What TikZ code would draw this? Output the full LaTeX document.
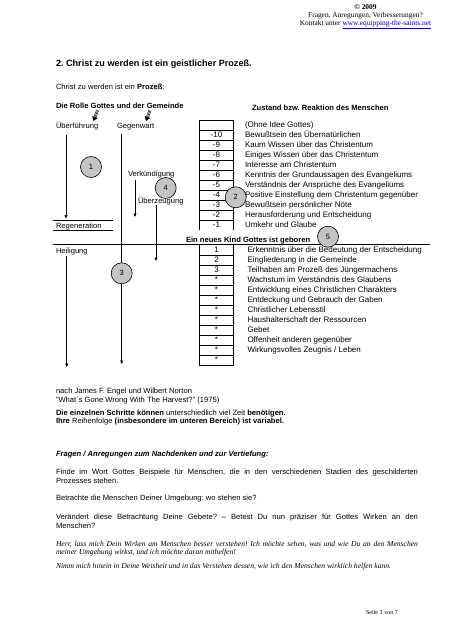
\documentclass[tikz,border=0pt]{standalone}
\usepackage{fontspec}
\setmainfont{Liberation Sans}
\newfontfamily\serifface{Liberation Serif}
\usetikzlibrary{arrows.meta}
\definecolor{circgray}{RGB}{196,196,196}
\definecolor{linkblue}{RGB}{0,0,200}
\newcommand\fBody{\fontsize{7.6}{8.75}\selectfont}
\newcommand\fTab{\fontsize{8}{9}\selectfont}
\newcommand\fTitle{\fontsize{9.1}{11}\selectfont\bfseries}
\newcommand\fHead{\fontsize{7.4}{8.5}\selectfont\serifface}
\newcommand\fFoot{\fontsize{6.1}{7.5}\selectfont\serifface}
\frenchspacing
\begin{document}
\frenchspacing
\begin{tikzpicture}[x=1pt,y=-1pt,
  every node/.style={inner sep=0pt,outer sep=0pt},
  txt/.style={anchor=base west,font=\fBody},
  ttxt/.style={anchor=base west,font=\fTab},
  num/.style={anchor=base,font=\fTab},
  circ/.style={circle,draw,line width=0.6pt,fill=circgray,minimum size=21pt,font=\fBody},
  rule/.style={line width=0.6pt},
  arr/.style={line width=0.6pt,-{Triangle[length=3.5pt,width=3pt]}},
  hatcharrow/.pic={
    \fill (0,0) -- (4.3,-2.95) -- (-1.3,-5.05) -- cycle;
    \foreach \o in {-1.1,0,1.1}{
      \draw[line width=0.45pt] ({1.5+0.94*\o},{-4+0.35*\o}) -- ++(2.6,-6.8);
    }
  }]
\useasboundingbox (0,0) rectangle (453,640);
\fill[white] (0,0) rectangle (453,640);

% header
\node[anchor=base,font=\fHead] (h1) at (365.5,9) {\bfseries\textcopyright\ 2009};
\node[anchor=base,font=\fHead] (h2) at (365.5,17) {Fragen, Anregungen, Verbesserungen?};
\node[anchor=base,font=\fHead] (h3) at (365.5,25) {Kontakt unter \textcolor{linkblue}{\underline{www.equipping-the-saints.net}}};

% title
\node[anchor=base west,font=\fTitle] (title) at (56,66.5) {2. Christ zu werden ist ein geistlicher Prozeß.};
\node[txt] (intro) at (56,89) {Christ zu werden ist ein \textbf{Prozeß}:};
\node[txt] (rolle) at (56,108) {\textbf{Die Rolle Gottes und der Gemeinde}};
\node[txt] (zust) at (252,110) {\textbf{Zustand bzw. Reaktion des Menschen}};

% hatched arrows
\pic at (93.5,121) {hatcharrow};
\pic at (146,121) {hatcharrow};

% coordinates for connectors
\coordinate (a1s) at (66,135);   \coordinate (a1e) at (66,218.5);
\coordinate (a2s) at (121.7,134); \coordinate (a2e) at (121.7,364);
\coordinate (a3s) at (135,180);  \coordinate (a3e) at (135,217);
\coordinate (a4s) at (156,205);  \coordinate (a4e) at (156,261);
\coordinate (a5s) at (66.7,256); \coordinate (a5e) at (66.7,367);
\draw[arr] (a1s) -- (a1e);
\draw[arr] (a2s) -- (a2e);
\draw[arr] (a3s) -- (a3e);
\draw[arr] (a4s) -- (a4e);
\draw[arr] (a5s) -- (a5e);

% regeneration rules
\draw[rule] (53,220.5) -- (113,220.5);
\draw[rule] (53,230.5) -- (113,230.5);
% long rule
\draw[rule] (53,244) -- (430,244);
\node[anchor=base west,font=\fBody\bfseries] (kind) at (186,242) {Ein neues Kind Gottes ist geboren};

% upper table
\foreach \i in {0,...,10} { \draw[rule] (199,{120+10*\i}) -- (233.5,{120+10*\i}); }
\draw[rule] (199,120) -- (199,230);
\draw[rule] (233.5,120) -- (233.5,230);
\foreach \n [count=\k] in {-10,-9,-8,-7,-6,-5,-4,-3,-2,-1} {
  \node[num] at (216.5,{127.8+10*\k}) {\n};
}
\foreach \t [count=\k from 0] in {(Ohne Idee Gottes),Bewußtsein des Übernatürlichen,Kaum Wissen über das Christentum,Einiges Wissen über das Christentum,Interesse am Christentum,Kenntnis der Grundaussagen des Evangeliums,Verständnis der Ansprüche des Evangeliums,Positive Einstellung dem Christentum gegenüber,Bewußtsein persönlicher Nöte,Herausforderung und Entscheidung,Umkehr und Glaube} {
  \node[ttxt] at (245,{127.8+10*\k}) {\t};
}

% lower table
\foreach \j in {1,...,12} { \draw[rule] (199,{245+10*\j}) -- (233.5,{245+10*\j}); }
\draw[rule] (199,244) -- (199,365);
\draw[rule] (233.5,244) -- (233.5,365);
\foreach \n [count=\k from 0] in {1,2,3,*,*,*,*,*,*,*,*,*} {
  \node[num] at (216.5,{252.8+10*\k}) {\n};
}
\foreach \t [count=\k from 0] in {Erkenntnis über die Bedeutung der Entscheidung,Eingliederung in die Gemeinde,Teilhaben am Prozeß des Jüngermachens,Wachstum im Verständnis des Glaubens,Entwicklung eines Christlichen Charakters,Entdeckung und Gebrauch der Gaben,Christlicher Lebensstil,Haushalterschaft der Ressourcen,Gebet,Offenheit anderen gegenüber,Wirkungsvolles Zeugnis / Leben} {
  \node[ttxt] at (247.5,{252.8+10*\k}) {\t};
}

% circles
\node[circ] (c1) at (91,167) {1};
\node[circ] (c4) at (165.7,188) {4};
\node[circ] (c2) at (235.7,197.3) {2};
\node[circ] (c3) at (121.7,273.3) {3};
\node[circ] (c5) at (328,236.7) {5};

% left side labels
\node[txt] (ueberf) at (56,128) {Überführung};
\node[txt] (gegenw) at (117,128) {Gegenwart};
\node[txt] (verk) at (128,176.5) {Verkündigung};
\node[txt] (ueberz) at (138,203) {Überzeugung};
\node[txt] (regen) at (56,228.5) {Regeneration};
\node[txt] (heil) at (56,253) {Heiligung};

% source
\node[txt] (src1) at (56,393.5) {nach James F. Engel und Wilbert Norton};
\node[txt] (src2) at (56,402.2) {"What´s Gone Wrong With The Harvest?" (1975)};
\node[txt] (n1) at (56,415) {\textbf{Die einzelnen Schritte können} unterschiedlich viel Zeit \textbf{benötigen.}};
\node[txt] (n2) at (56,423.75) {\textbf{Ihre} Reihenfolge \textbf{(insbesondere im unteren Bereich) ist variabel.}};

\node[txt] (fr) at (56,456) {\textbf{\itshape Fragen / Anregungen zum Nachdenken und zur Vertiefung:}};
\node[txt] (q1a) at (56,474.5) {\makebox[362pt][s]{Finde im Wort Gottes Beispiele für Menschen, die in den verschiedenen Stadien des geschilderten}};
\node[txt] (q1b) at (56,483.2) {Prozesses stehen.};
\node[txt] (q2) at (56,500) {Betrachte die Menschen Deiner Umgebung: wo stehen sie?};
\node[txt] (q3a) at (56,519.5) {\makebox[362pt][s]{Verändert diese Betrachtung Deine Gebete? – Betest Du nun präziser für Gottes Wirken an den}};
\node[txt] (q3b) at (56,528.2) {Menschen?};
\node[txt,font=\fBody\serifface\itshape] (p1a) at (56,546) {\makebox[362pt][s]{Herr, lass mich Dein Wirken am Menschen besser verstehen! Ich möchte sehen, was und wie Du an den Menschen}};
\node[txt,font=\fBody\serifface\itshape] (p1b) at (56,554.7) {meiner Umgebung wirkst, und ich möchte daran mithelfen!};
\node[txt,font=\fBody\serifface\itshape] (p2) at (56,568.5) {Nimm mich hinein in Deine Weisheit und in das Verstehen dessen, wie ich den Menschen wirklich helfen kann.};

% footer
\node[anchor=base west,font=\fFoot] (foot) at (366,614) {Seite 3 von 7};
\end{tikzpicture}
\end{document}
